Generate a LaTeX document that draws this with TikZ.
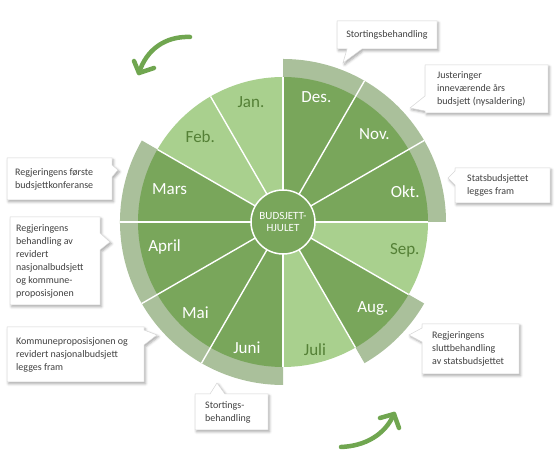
\documentclass[tikz,border=0pt]{standalone}
\usepackage{fontspec}
\setmainfont{Carlito}
\usetikzlibrary{shadows.blur}
\definecolor{dk}{RGB}{121,166,91}
\definecolor{lt}{RGB}{169,208,142}
\definecolor{ringc}{RGB}{170,192,155}
\definecolor{lttext}{RGB}{84,128,54}
\definecolor{arrowc}{RGB}{112,166,80}
\definecolor{calltext}{RGB}{64,64,64}
\definecolor{callborder}{RGB}{215,215,215}
\tikzset{
  sepline/.style={white,line width=1.4pt},
  monthlbl/.style={font=\fontsize{17}{18}\selectfont,inner sep=0pt},
  onDark/.style={monthlbl,text=white},
  onLight/.style={monthlbl,text=lttext},
  callout/.style={fill=white,draw=callborder,line width=0.5pt,
    blur shadow={shadow xshift=1.5pt,shadow yshift=-1.8pt,shadow blur radius=2.5pt,shadow opacity=35}},
  calltxt/.style={font=\fontsize{10}{13}\selectfont,text=calltext,align=left,inner sep=0pt},
  turnarrow/.style={arrowc,line width=4.5pt,line cap=round,line join=round}
}
\begin{document}
\begin{tikzpicture}[x=1pt,y=1pt]
\useasboundingbox (0,0) rectangle (560,470);
\coordinate (C) at (283,248);
% outer ring pieces
\fill[ringc] (C) -- ++(0:163) arc[start angle=0,end angle=90,radius=163] -- cycle;
\fill[ringc] (C) -- ++(150:163) arc[start angle=150,end angle=270,radius=163] -- cycle;
\fill[ringc] (C) -- ++(-60:163) arc[start angle=-60,end angle=-30,radius=163] -- cycle;
% month segments
\foreach \a/\col in {0/dk,30/dk,60/dk,90/lt,120/lt,150/dk,180/dk,210/dk,240/dk,270/lt,300/dk,330/lt}
  \fill[\col] (C) -- ++(\a:145) arc[start angle=\a,delta angle=30,radius=145] -- cycle;
% separators
\foreach \a/\r in {0/145,30/163,60/163,90/145,120/145,150/145,180/163,210/163,240/163,270/145,300/145,330/145}
  \draw[sepline] (C) -- ++(\a:\r);
% hub
\node[circle,fill=dk,draw=white,line width=1.5pt,minimum size=64pt,inner sep=0pt,
  text=white,align=center,font=\fontsize{11}{12.5}\selectfont] (hub) at (C) {BUDSJETT-\\HJULET};
% month labels
\node[onDark]  (okt) at ([shift={(C)}]14:126) {Okt.};
\node[onDark]  (nov) at ([shift={(C)}]44:127) {Nov.};
\node[onDark]  (des) at ([shift={(C)}]75:129) {Des.};
\node[onLight] (jan) at ([shift={(C)}]105:124) {Jan.};
\node[onLight] (feb) at ([shift={(C)}]134:119) {Feb.};
\node[onDark]  (mar) at ([shift={(C)}]164:118) {Mars};
\node[onDark]  (apr) at ([shift={(C)}]-168:121) {April};
\node[onDark]  (mai) at ([shift={(C)}]-134:126) {Mai};
\node[onDark]  (jun) at ([shift={(C)}]-106:131) {Juni};
\node[onLight] (jul) at ([shift={(C)}]-76:132) {Juli};
\node[onDark]  (aug) at ([shift={(C)}]-44:125) {Aug.};
\node[onLight] (sep) at ([shift={(C)}]-13:125) {Sep.};
% callouts
\path[callout] (337,421) -- (347,421) -- (343,407) -- (362,421) -- (437,421) -- (437,449) -- (337,449) -- cycle;
\node[calltxt] (c1) at (387,435) {Stortingsbehandling};
\path[callout] (425,357) -- (548,357) -- (548,405) -- (425,405) -- (425,374) -- (410,362) -- (425,359) -- cycle;
\node[calltxt,anchor=west] (c2) at (437,381) {Justeringer\\inneværende års\\budsjett (nysaldering)};
\path[callout] (455,267) -- (550,267) -- (550,302) -- (455,302) -- (455,299) -- (448,292) -- (455,285) -- cycle;
\node[calltxt,anchor=west] (c3) at (467,284.5) {Statsbudsjettet\\legges fram};
\path[callout] (422,96) -- (519,96) -- (519,146) -- (422,146) -- (422,142) -- (409,135) -- (422,128) -- cycle;
\node[calltxt,anchor=west] (c4) at (432,121) {Regjeringens\\sluttbehandling\\av statsbudsjettet};
\path[callout] (7,270) -- (112,270) -- (112,293) -- (118,300) -- (112,305) -- (112,312) -- (7,312) -- cycle;
\node[calltxt,anchor=west] (c5) at (15,291) {Regjeringens første\\budsjettkonferanse};
\path[callout] (10,165) -- (100,165) -- (100,220) -- (110,228) -- (100,237) -- (100,253) -- (10,253) -- cycle;
\node[calltxt,anchor=west] (c6) at (16,209) {Regjeringens\\behandling av\\revidert\\nasjonalbudsjett\\og kommune-\\proposisjonen};
\path[callout] (7,88) -- (144,88) -- (144,125) -- (157,135) -- (144,140) -- (144,143) -- (7,143) -- cycle;
\node[calltxt,anchor=west] (c7) at (16,115.5) {Kommuneproposisjonen og\\revidert nasjonalbudsjett\\legges fram};
\path[callout] (195,40) -- (268,40) -- (268,76) -- (225,76) -- (217,87) -- (210,76) -- (195,76) -- cycle;
\node[calltxt,anchor=west] (c8) at (205,58) {Stortings-\\behandling};
% turning arrows
\coordinate (a1s) at (190,433);
\coordinate (a1e) at (139,397);
\draw[turnarrow] (a1s) .. controls (165,434) and (146,420) .. (a1e);
\draw[turnarrow] (134,409) -- (a1e) -- (154,402);
\coordinate (a2s) at (341,23);
\coordinate (a2e) at (394,56);
\draw[turnarrow] (a2s) .. controls (365,24) and (385,35) .. (a2e);
\draw[turnarrow] (380,52) -- (a2e) -- (399,42);
\end{tikzpicture}
\end{document}
